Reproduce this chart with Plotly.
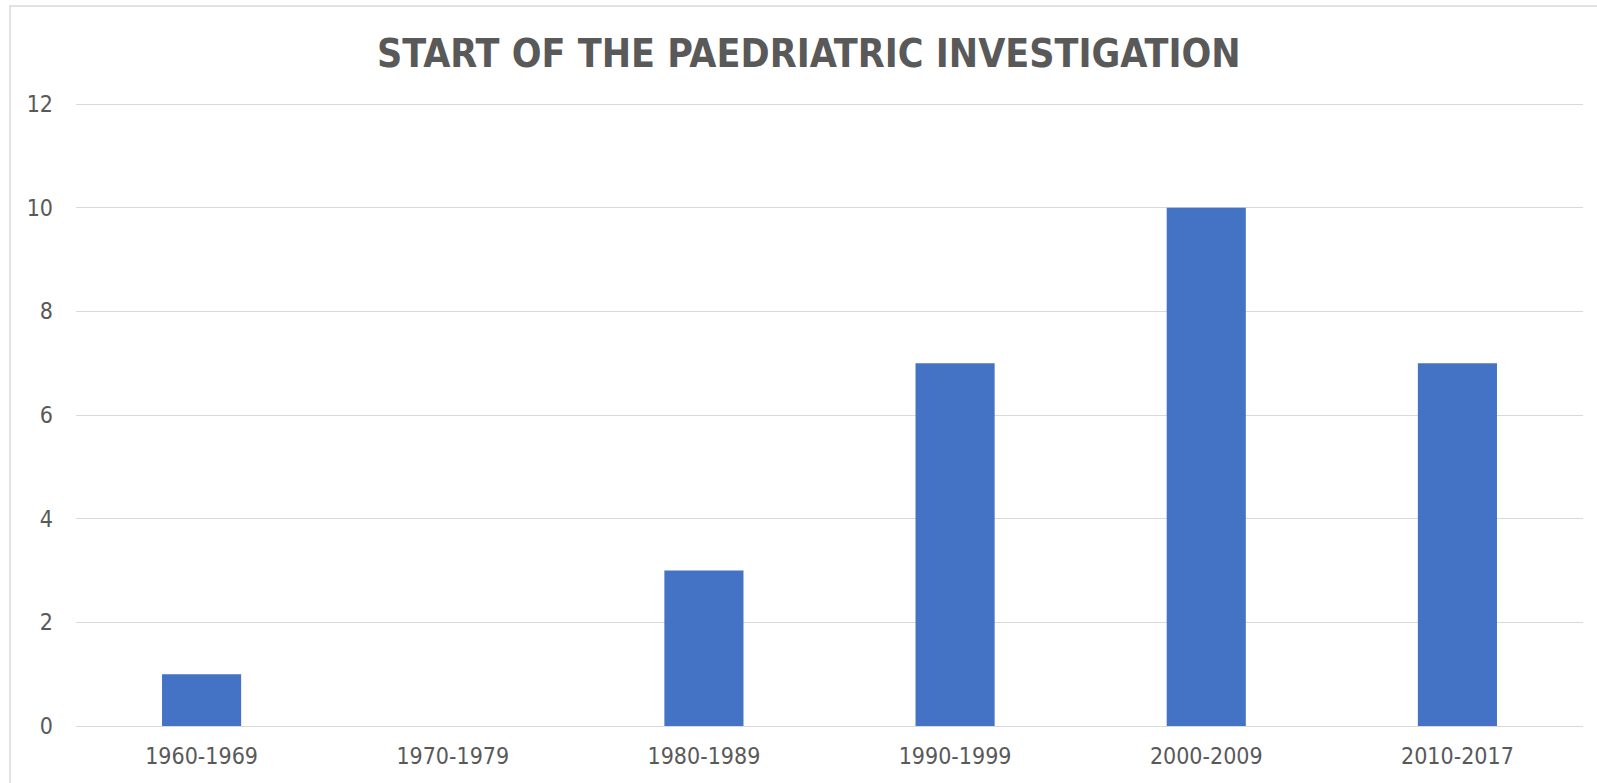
import plotly.graph_objects as go

categories = ["1960-1969", "1970-1979", "1980-1989", "1990-1999", "2000-2009", "2010-2017"]
values = [1, 0, 3, 7, 10, 7]
y_ticks = [0, 2, 4, 6, 8, 10, 12]

W, H = 1597, 783
YMAX = 12.02
L, R, B = 76, 14, 57
T = 104 - (YMAX - 12) / 12 * (783 - 57 - 104)
pw, ph = W - L - R, H - T - B

def px_x(p):
    return (p - L) / pw

def px_y(p):
    return (H - B - p) / ph

FONT = "DejaVu Sans Condensed, Tahoma, DejaVu Sans, sans-serif"
TXT = "#595959"

fig = go.Figure()
fig.add_trace(go.Bar(x=categories, y=values, marker=dict(color="#4472C4", line=dict(width=0)),
                     hoverinfo="x+y"))

fig.update_layout(
    width=W, height=H,
    margin=dict(l=L, r=R, t=T, b=B),
    paper_bgcolor="white", plot_bgcolor="white",
    bargap=0.685,
    showlegend=False,
    font=dict(family=FONT, color=TXT, size=23),
    xaxis=dict(showgrid=False, showline=False, ticks="", tickfont=dict(size=23, color=TXT),
               zeroline=False, ticklabelstandoff=14),
    yaxis=dict(range=[0, YMAX], tickvals=y_ticks, showgrid=True, gridcolor="#d9d9d9", gridwidth=1.3,
               zeroline=True, zerolinecolor="#d9d9d9", zerolinewidth=1.3,
               showline=False, ticks="", tickfont=dict(size=23, color=TXT), ticklabelstandoff=22),
)

fig.add_annotation(text="<b>START OF THE PAEDRIATRIC INVESTIGATION</b>", xref="paper", yref="paper",
                   x=px_x(809), y=px_y(53), xanchor="center", yanchor="middle", showarrow=False,
                   font=dict(family=FONT, size=39, color=TXT))

fig.add_shape(type="rect", xref="paper", yref="paper",
              x0=px_x(10), x1=px_x(1610), y0=px_y(800), y1=px_y(6),
              line=dict(color="#d9d9d9", width=1.5), fillcolor="rgba(0,0,0,0)", layer="below")

fig.write_html("out.html", config={"displayModeBar": False},
               post_script="document.body.style.margin='0';document.body.style.overflow='hidden';")
